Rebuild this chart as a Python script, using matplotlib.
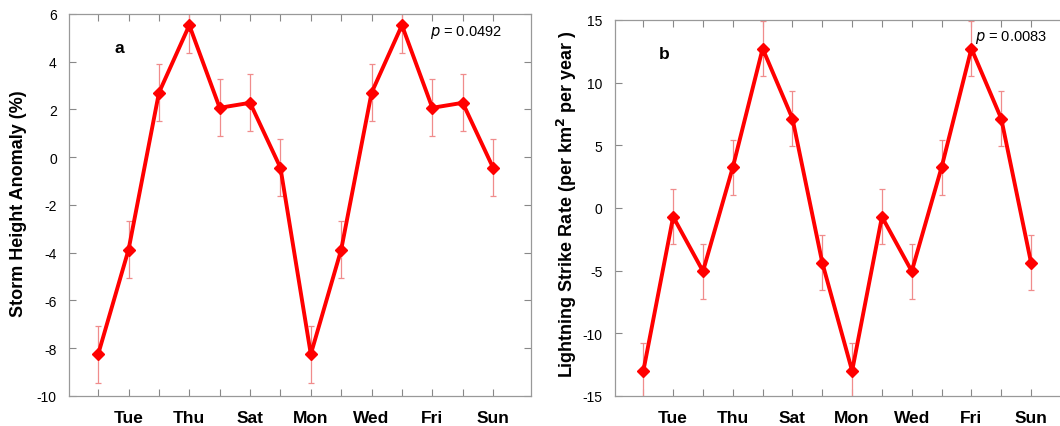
import numpy as np
import matplotlib
matplotlib.use('Agg')
import matplotlib.pyplot as plt

# two weeks, Mon..Sun repeated
days = ['Mon', 'Tue', 'Wed', 'Thu', 'Fri', 'Sat', 'Sun',
        'Mon', 'Tue', 'Wed', 'Thu', 'Fri', 'Sat', 'Sun']
storm = [-8.25, -3.87, 2.70, 5.53, 2.07, 2.28, -0.44,
         -8.25, -3.87, 2.70, 5.53, 2.07, 2.28, -0.44]
storm_err = [1.20, 1.19, 1.20, 1.17, 1.19, 1.20, 1.20,
             1.20, 1.19, 1.20, 1.17, 1.19, 1.20, 1.20]
lightning = [-13.0, -0.70, -5.05, 3.25, 12.72, 7.13, -4.37,
             -13.0, -0.70, -5.05, 3.25, 12.72, 7.13, -4.37]
lightning_err = [2.2, 2.2, 2.2, 2.2, 2.2, 2.2, 2.2,
                 2.2, 2.2, 2.2, 2.2, 2.2, 2.2, 2.2]
p_storm = 'p = 0.0492'
p_lightning = 'p = 0.0083'

plt.rcParams['font.family'] = ['Liberation Sans', 'DejaVu Sans']
plt.rcParams['axes.unicode_minus'] = False
x = np.arange(1, len(days) + 1)
xlabels = [d if i % 2 == 1 else '' for i, d in enumerate(days)]

fig = plt.figure(figsize=(10.6, 4.27), dpi=100)
ax1 = fig.add_axes([0.0654, 0.0703, 0.4353, 0.8946])
ax2 = fig.add_axes([0.5802, 0.0703, 0.4274, 0.8806])


def draw(ax, y, err, ylim, yticks, letter, ptext, ylabel, ylab_x, ppos):
    ax.errorbar(x, y, yerr=err, fmt='none', ecolor='#f08c8c', elinewidth=0.9,
                capsize=2.2, capthick=0.9, zorder=2)
    ax.plot(x, y, color='#ff0000', linewidth=2.8, marker='D', markersize=6,
            zorder=3)
    ax.set_xlim(0.05, 15.24)
    ax.set_ylim(*ylim)
    ax.set_yticks(yticks)
    ax.set_xticks(x, labels=xlabels)
    for lab in ax.get_xticklabels():
        lab.set_fontweight('bold')
        lab.set_fontsize(12.5)
    ax.tick_params(axis='x', direction='in', top=True, length=5, width=0.8,
                   color='#888888', pad=10)
    ax.tick_params(axis='y', direction='in', right=True, length=5, width=0.8,
                   color='#888888', labelsize=10, pad=9)
    for s in ax.spines.values():
        s.set_color('#999999')
        s.set_linewidth(0.9)
    ax.text(letter[0], letter[1], letter[2], transform=ax.transAxes,
            fontsize=12.5, fontweight='bold', ha='center', va='center')
    ax.text(ppos[0], ppos[1], r'$\it{p}$' + ptext[1:], transform=ax.transAxes,
            fontsize=10.5, ha='right', va='center')
    fig.text(ylab_x, 0.522, ylabel, rotation=90, fontsize=13,
             fontweight='bold', ha='center', va='center')


draw(ax1, storm, storm_err, (-10, 6), np.arange(-10, 7, 2),
     (0.108, 0.911, 'a'), p_storm, 'Storm Height Anomaly (%)',
     19 / 1060, (0.938, 0.955))
draw(ax2, lightning, lightning_err, (-15, 15), np.arange(-15, 16, 5),
     (0.108, 0.912, 'b'), p_lightning,
     'Lightning Strike Rate (per km$^\\mathbf{2}$ per year )',
     567 / 1060, (0.954, 0.956))

fig.savefig('out.png', dpi=100)
